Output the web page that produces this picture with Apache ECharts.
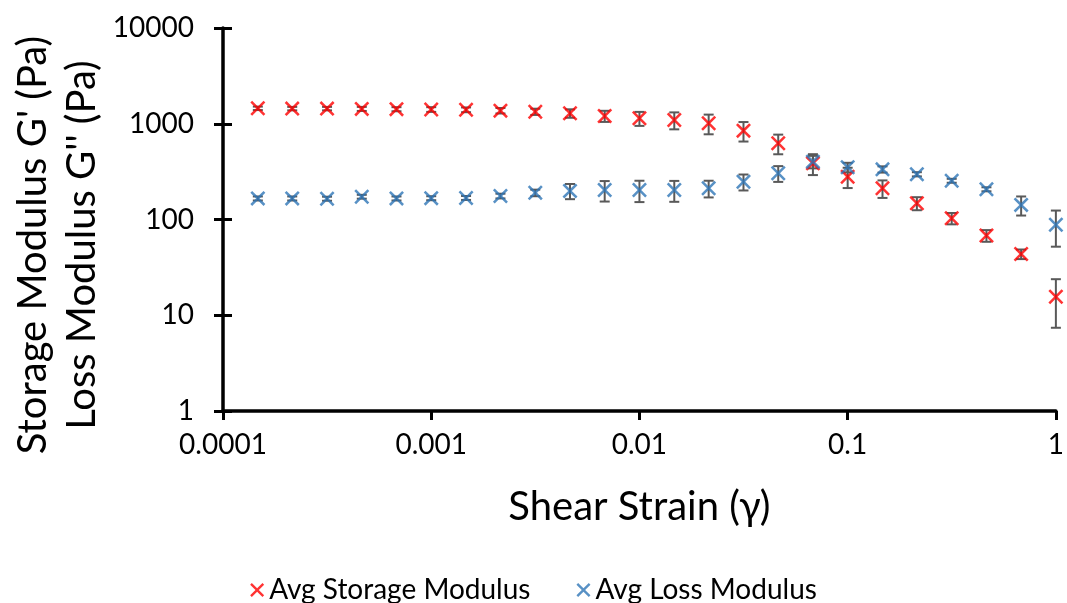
<!DOCTYPE html>
<html>
<head>
<meta charset="utf-8">
<script src="https://cdn.jsdelivr.net/npm/echarts@6/dist/echarts.min.js"></script>
<style>
html,body{margin:0;padding:0;background:#fff;}
#chart{width:1067px;height:603px;}
</style>
</head>
<body>
<div id="chart"></div>
<script>
// Shear strain (x)
const strain = [0.000147, 0.000215, 0.000316, 0.000464, 0.000681, 0.001, 0.00147, 0.00215, 0.00316, 0.00464, 0.00681, 0.01,
  0.0147, 0.0215, 0.0316, 0.0464, 0.0681, 0.1, 0.147, 0.215, 0.316, 0.464, 0.681, 1];
// Avg Storage Modulus G' (Pa)
const storage = [1450, 1440, 1440, 1430, 1420, 1410, 1400, 1370, 1336, 1285, 1205, 1140,
  1094, 1011, 847, 625, 386, 280, 212, 148, 103, 68, 43.6, 15.6];
const storageErr = [60, 60, 60, 70, 70, 80, 80, 90, 100, 130, 160, 190,
  220, 235, 195, 145, 95, 67, 44, 23, 14, 9.5, 5, 8.2];
// Avg Loss Modulus G'' (Pa)
const loss = [166, 166, 165, 173, 166, 167, 168, 176, 190, 199, 203, 203,
  203, 212, 248, 304, 402, 351, 334, 297, 254, 207, 142, 88];
const lossErr = [8, 8, 8, 8, 8, 8, 8, 10, 15, 36, 49, 51,
  50, 42, 47, 57, 60, 40, 25, 15, 12, 10, 32, 36];
const xTicks = ['0.0001', '0.001', '0.01', '0.1', '1'];
const yTicks = ['1', '10', '100', '1000', '10000'];

const FONT = 'Lato';
const X_PATH = 'path://M0,1.2L1.2,0L5,3.8L8.8,0L10,1.2L6.2,5L10,8.8L8.8,10L5,6.2L1.2,10L0,8.8L3.8,5Z';

function pts(xs, ys) { return xs.map((x, i) => [x, ys[i]]); }
function errPts(xs, ys, es) { return xs.map((x, i) => [x, Math.max(ys[i] - es[i], 1e-6), ys[i] + es[i]]); }

function errRender(params, api) {
  const x = api.value(0), lo = api.value(1), hi = api.value(2);
  const p1 = api.coord([x, lo]);
  const p2 = api.coord([x, hi]);
  const w = 5;
  const st = { stroke: '#595959', lineWidth: 2 };
  return {
    type: 'group',
    children: [
      { type: 'line', shape: { x1: p1[0], y1: p1[1], x2: p2[0], y2: p2[1] }, style: st },
      { type: 'line', shape: { x1: p1[0] - w, y1: p1[1], x2: p1[0] + w, y2: p1[1] }, style: st },
      { type: 'line', shape: { x1: p2[0] - w, y1: p2[1], x2: p2[0] + w, y2: p2[1] }, style: st }
    ]
  };
}

const chart = echarts.init(document.getElementById('chart'), null, { renderer: 'canvas' });
const axisLine = { show: true, lineStyle: { color: '#000', width: 3.5 } };
chart.setOption({
  animation: false,
  backgroundColor: '#fff',
  textStyle: { fontFamily: FONT },
  grid: { left: 223, right: 9, top: 28, bottom: 192, containLabel: false },
  xAxis: {
    type: 'log', logBase: 10, min: 0.0001, max: 1,
    axisLine: axisLine,
    axisTick: { show: true, length: 9, lineStyle: { color: '#000', width: 3 } },
    axisLabel: { color: '#000', fontSize: 28, fontFamily: FONT, margin: 20,
      formatter: v => { const i = Math.round(Math.log10(v)) + 4; return xTicks[i] !== undefined ? xTicks[i] : ''; } },
    splitLine: { show: false },
    minorTick: { show: false },
    name: 'Shear Strain (γ)', nameLocation: 'middle', nameGap: 76,
    nameTextStyle: { color: '#000', fontSize: 40, fontFamily: FONT }
  },
  yAxis: [{
    type: 'log', logBase: 10, min: 1, max: 10000,
    axisLine: axisLine,
    axisTick: { show: true, length: 9, lineStyle: { color: '#000', width: 3 } },
    axisLabel: { color: '#000', fontSize: 28, fontFamily: FONT, margin: 29,
      formatter: v => { const i = Math.round(Math.log10(v)); return yTicks[i] !== undefined ? yTicks[i] : ''; } },
    splitLine: { show: false }
  }, {
    type: 'log', logBase: 10, min: 1, max: 10000, position: 'left',
    axisLine: { show: false },
    axisTick: { show: true, inside: true, length: 9, lineStyle: { color: '#000', width: 3 } },
    axisLabel: { show: false },
    splitLine: { show: false }
  }],
  legend: {
    bottom: -6, left: 'center',
    itemWidth: 14, itemHeight: 14, itemGap: 46,
    textStyle: { color: '#000', fontSize: 28, fontFamily: FONT },
    data: [
      { name: 'Avg Storage Modulus', icon: X_PATH },
      { name: 'Avg Loss Modulus', icon: X_PATH }
    ]
  },
  graphic: [
    { type: 'text', x: 33, y: 245, rotation: Math.PI / 2,
      style: { text: "Storage Modulus G' (Pa)", fontSize: 40, fontFamily: FONT, fill: '#000', align: 'center', verticalAlign: 'middle' } },
    { type: 'text', x: 82, y: 245, rotation: Math.PI / 2,
      style: { text: "Loss Modulus G'' (Pa)", fontSize: 40, fontFamily: FONT, fill: '#000', align: 'center', verticalAlign: 'middle' } }
  ],
  series: [
    { name: 'errStorage', type: 'custom', renderItem: errRender, data: errPts(strain, storage, storageErr),
      encode: { x: 0, y: [1, 2] }, z: 2, silent: true },
    { name: 'errLoss', type: 'custom', renderItem: errRender, data: errPts(strain, loss, lossErr),
      encode: { x: 0, y: [1, 2] }, z: 2, silent: true },
    { name: 'Avg Storage Modulus', type: 'scatter', data: pts(strain, storage), symbol: X_PATH, symbolSize: 15,
      itemStyle: { color: '#FF0000' }, z: 3 },
    { name: 'Avg Loss Modulus', type: 'scatter', data: pts(strain, loss), symbol: X_PATH, symbolSize: 15,
      itemStyle: { color: '#2E75B6' }, z: 3 }
  ]
});
</script>
</body>
</html>
